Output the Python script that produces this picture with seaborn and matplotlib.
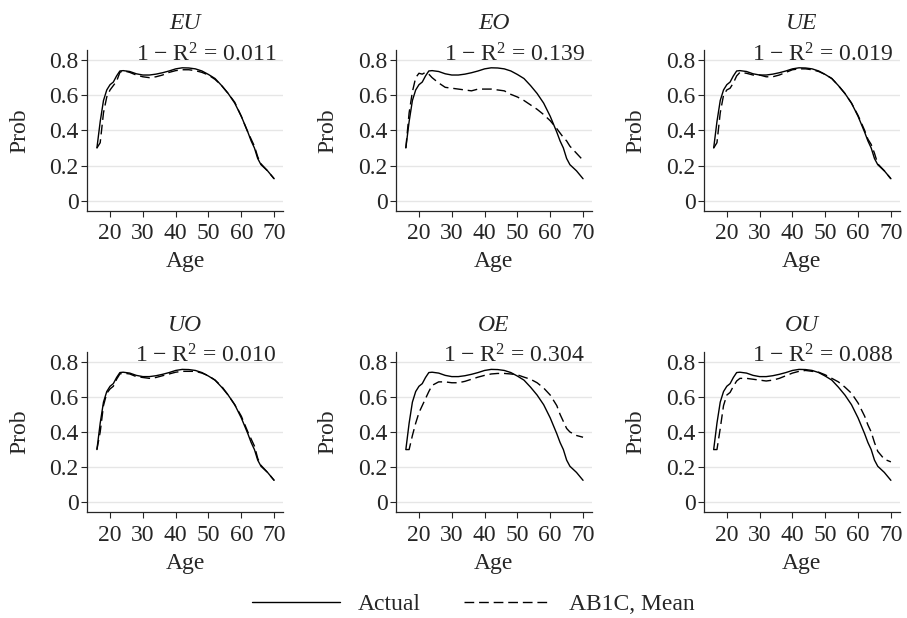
import pandas as pd
import matplotlib
matplotlib.use("Agg")
import matplotlib.pyplot as plt
import seaborn as sns
from matplotlib.lines import Line2D

ages = [16, 17, 18, 19, 20, 21, 22, 23, 24, 26, 28, 30, 32, 34, 36, 38, 40, 42, 44,
        46, 48, 50, 52, 54, 56, 58, 60, 62, 63, 64, 65, 66, 68, 70]

actual = [0.30, 0.45, 0.57, 0.63, 0.66, 0.675, 0.71, 0.738, 0.74, 0.735, 0.722, 0.715,
          0.715, 0.72, 0.728, 0.738, 0.75, 0.756, 0.755, 0.75, 0.738, 0.718, 0.695,
          0.655, 0.61, 0.555, 0.48, 0.39, 0.34, 0.30, 0.24, 0.205, 0.17, 0.125]

ab1c_eu = [0.30, 0.33, 0.50, 0.59, 0.63, 0.655, 0.68, 0.73, 0.74, 0.73, 0.715, 0.705,
           0.70, 0.705, 0.715, 0.73, 0.74, 0.745, 0.745, 0.74, 0.73, 0.715, 0.69,
           0.655, 0.61, 0.56, 0.48, 0.39, 0.35, 0.31, 0.25, 0.21, 0.17, 0.125]
ab1c_eo = [0.30, 0.50, 0.62, 0.70, 0.725, 0.72, 0.73, 0.72, 0.70, 0.67, 0.645, 0.64,
           0.635, 0.63, 0.625, 0.635, 0.635, 0.635, 0.63, 0.625, 0.605, 0.59, 0.57,
           0.545, 0.52, 0.49, 0.455, 0.41, 0.385, 0.36, 0.34, 0.31, 0.27, 0.23]
ab1c_ue = [0.30, 0.33, 0.50, 0.60, 0.63, 0.64, 0.67, 0.71, 0.73, 0.725, 0.715, 0.715,
           0.705, 0.705, 0.715, 0.73, 0.745, 0.75, 0.75, 0.745, 0.735, 0.718, 0.695,
           0.655, 0.61, 0.555, 0.485, 0.40, 0.35, 0.32, 0.27, 0.21, 0.17, 0.125]
ab1c_uo = [0.30, 0.40, 0.55, 0.62, 0.645, 0.66, 0.70, 0.73, 0.735, 0.73, 0.715, 0.71,
           0.705, 0.71, 0.72, 0.73, 0.74, 0.745, 0.745, 0.745, 0.735, 0.72, 0.695,
           0.66, 0.61, 0.555, 0.49, 0.40, 0.36, 0.32, 0.25, 0.21, 0.17, 0.125]
ab1c_oe = [0.30, 0.30, 0.38, 0.45, 0.51, 0.55, 0.59, 0.63, 0.665, 0.685, 0.685, 0.68,
           0.68, 0.688, 0.70, 0.712, 0.722, 0.73, 0.733, 0.733, 0.73, 0.725, 0.712,
           0.70, 0.68, 0.65, 0.61, 0.55, 0.50, 0.46, 0.42, 0.40, 0.38, 0.37]
ab1c_ou = [0.30, 0.30, 0.42, 0.55, 0.61, 0.625, 0.66, 0.69, 0.705, 0.705, 0.70, 0.695,
           0.69, 0.695, 0.705, 0.72, 0.735, 0.745, 0.75, 0.745, 0.74, 0.725, 0.705,
           0.685, 0.655, 0.62, 0.565, 0.49, 0.44, 0.40, 0.34, 0.29, 0.245, 0.23]

panel_names = ["EU", "EO", "UE", "UO", "OE", "OU"]
panel_fits = ["0.011", "0.139", "0.019", "0.010", "0.304", "0.088"]
panel_series = [ab1c_eu, ab1c_eo, ab1c_ue, ab1c_uo, ab1c_oe, ab1c_ou]

ytick_vals = [0, 0.2, 0.4, 0.6, 0.8]
ytick_labels = ["0", "0.2", "0.4", "0.6", "0.8"]
xtick_vals = [20, 30, 40, 50, 60, 70]

FS = 17
DASH = (0, (7, 3.5))

sns.set_style("ticks")
plt.rcParams["font.family"] = ["Liberation Serif", "DejaVu Serif"]
plt.rcParams["mathtext.fontset"] = "custom"
plt.rcParams["mathtext.rm"] = "Liberation Serif"
plt.rcParams["mathtext.it"] = "Liberation Serif:italic"

fig = plt.figure(figsize=(9.07, 6.18), dpi=100)

lefts = [0.096, 0.4366, 0.776]
bottoms = [0.659, 0.171]
w, h = 0.216, 0.26

for i, name in enumerate(panel_names):
    row, col = divmod(i, 3)
    ax = fig.add_axes([lefts[col], bottoms[row], w, h])
    df = pd.DataFrame({"Age": ages, "Actual": actual, "Model": panel_series[i]})
    sns.lineplot(data=df, x="Age", y="Actual", ax=ax, color="black", linewidth=1.0)
    sns.lineplot(data=df, x="Age", y="Model", ax=ax, color="black", linewidth=1.0,
                 linestyle=DASH)
    ax.set_xlim(13, 72.7)
    ax.set_ylim(-0.057, 0.857)
    ax.set_yticks(ytick_vals)
    ax.set_yticklabels(ytick_labels)
    ax.set_xticks(xtick_vals)
    ax.yaxis.grid(True, color="#e6e6e6", linewidth=1.0)
    ax.set_axisbelow(True)
    sns.despine(ax=ax)
    for s in ["left", "bottom"]:
        ax.spines[s].set_linewidth(0.9)
    ax.tick_params(axis="x", length=4, width=0.8, labelsize=FS, pad=5)
    ax.tick_params(axis="y", length=4, width=0.8, labelsize=FS, pad=2)
    ax.set_xlabel("Age", fontsize=FS, labelpad=5)
    ax.set_ylabel("Prob", fontsize=FS, labelpad=14)
    ax.set_title(name, fontstyle="italic", fontsize=FS, pad=15)
    ax.text(0.965, 0.93, "1 \u2212 R$^2$ = " + panel_fits[i], transform=ax.transAxes,
            ha="right", va="baseline", fontsize=FS)

handles = [Line2D([], [], color="black", linewidth=1.0),
           Line2D([], [], color="black", linewidth=1.0, linestyle=DASH)]
fig.legend(handles, ["Actual", "AB1C, Mean"], loc="center", bbox_to_anchor=(0.522, 0.022),
           ncol=2, frameon=False, handlelength=3.7, handletextpad=0.75,
           columnspacing=1.85, fontsize=FS)

fig.savefig("out.png", dpi=100)
